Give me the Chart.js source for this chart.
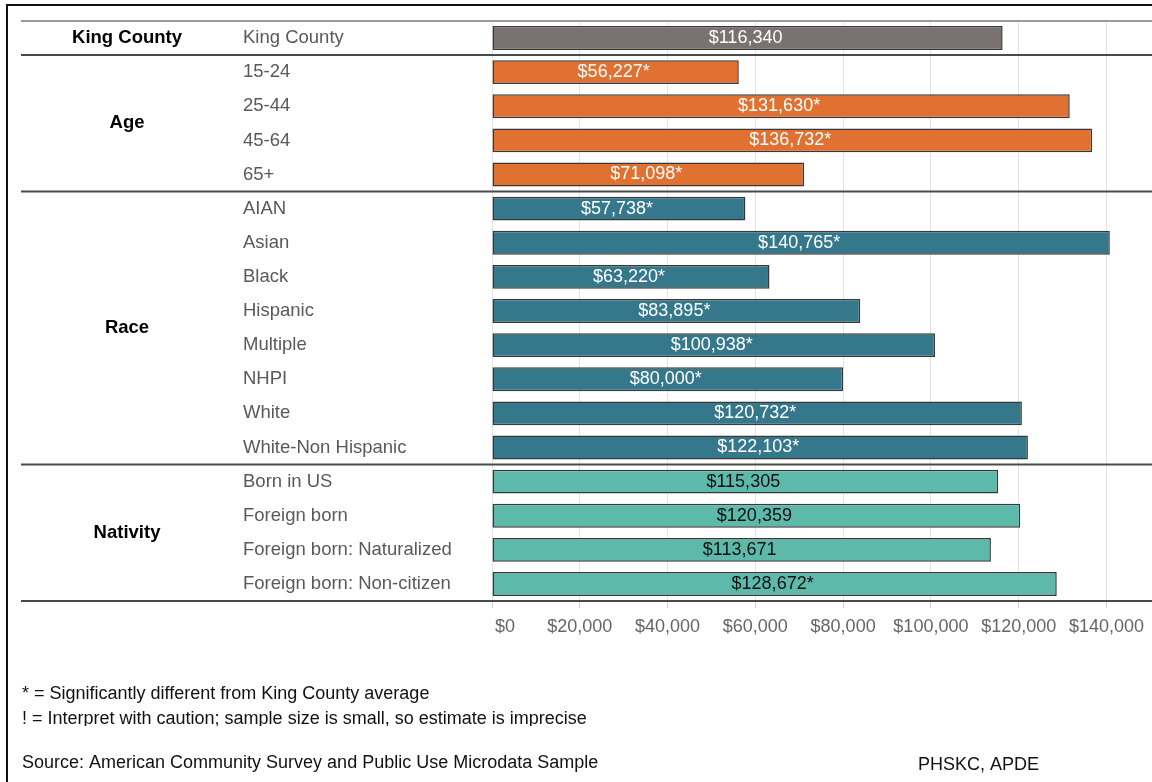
<!DOCTYPE html>
<html>
<head>
<meta charset="utf-8">
<script src="https://cdn.jsdelivr.net/npm/chart.js@4"></script>
<style>
  html, body { margin: 0; padding: 0; background: #fff; }
  #wrap { position: relative; width: 1152px; height: 782px; }
  canvas { display: block; }
</style>
</head>
<body>
<div id="wrap"><canvas id="c" width="1152" height="782"></canvas></div>
<script>
// ---- data ----
const groupNames = ['King County', 'Age', 'Race', 'Nativity'];
const groupSizes = [1, 4, 8, 4];
const categories = [
  'King County',
  '15-24', '25-44', '45-64', '65+',
  'AIAN', 'Asian', 'Black', 'Hispanic', 'Multiple', 'NHPI', 'White', 'White-Non Hispanic',
  'Born in US', 'Foreign born', 'Foreign born: Naturalized', 'Foreign born: Non-citizen'
];
const incomeValues = [
  116340,
  56227, 131630, 136732, 71098,
  57738, 140765, 63220, 83895, 100938, 80000, 120732, 122103,
  115305, 120359, 113671, 128672
];
const significant = [
  false,
  true, true, true, true,
  true, true, true, true, true, true, true, true,
  false, false, false, true
];
const xTicks = [0, 20000, 40000, 60000, 80000, 100000, 120000, 140000];
const footnotes = [
  '* = Significantly different from King County average',
  '! = Interpret with caution; sample size is small, so estimate is imprecise'
];
const sourceText = 'Source: American Community Survey and Public Use Microdata Sample';
const creditText = 'PHSKC, APDE';

// ---- styles ----
const groupColors = ['#7a7271', '#e07131', '#35788b', '#5db9a9'];
const labelColors = ['#ffffff', '#ffffff', '#ffffff', '#111111'];
const FONT = "'Liberation Sans', Arial, sans-serif";

const barGroup = [];
groupSizes.forEach((n, g) => { for (let i = 0; i < n; i++) barGroup.push(g); });
const fmt = v => '$' + v.toLocaleString('en-US');

const decor = {
  id: 'decor',
  beforeDraw(chart) {
    const ctx = chart.ctx;
    ctx.save();
    ctx.fillStyle = '#fff';
    ctx.fillRect(0, 0, chart.width, chart.height);
    ctx.restore();
  },
  afterDraw(chart) {
    const ctx = chart.ctx;
    const y = chart.scales.y;
    const x = chart.scales.x;
    const step = y.getPixelForValue(1) - y.getPixelForValue(0);
    ctx.save();
    // frame
    ctx.strokeStyle = '#111';
    ctx.lineWidth = 2;
    ctx.beginPath();
    ctx.moveTo(7, 782); ctx.lineTo(7, 5); ctx.lineTo(1152, 5);
    ctx.stroke();
    // separators and group labels
    let start = 0;
    const top = y.getPixelForValue(0) - step / 2;
    ctx.strokeStyle = '#9a9a9a';
    ctx.lineWidth = 2;
    ctx.beginPath(); ctx.moveTo(21, top); ctx.lineTo(1152, top); ctx.stroke();
    groupSizes.forEach((n, g) => {
      const end = start + n - 1;
      const yb = y.getPixelForValue(end) + step / 2;
      ctx.strokeStyle = '#4a4a4a';
      ctx.lineWidth = 2;
      ctx.beginPath(); ctx.moveTo(21, yb); ctx.lineTo(1152, yb); ctx.stroke();
      const ym = (y.getPixelForValue(start) + y.getPixelForValue(end)) / 2;
      ctx.fillStyle = '#000';
      ctx.font = 'bold 18.5px ' + FONT;
      ctx.textAlign = 'center';
      ctx.textBaseline = 'middle';
      ctx.fillText(groupNames[g], 127, ym);
      start = end + 1;
    });
    // value labels
    const meta = chart.getDatasetMeta(0);
    ctx.font = '18px ' + FONT;
    ctx.textAlign = 'center';
    ctx.textBaseline = 'middle';
    meta.data.forEach((bar, i) => {
      ctx.fillStyle = labelColors[barGroup[i]];
      const txt = fmt(incomeValues[i]) + (significant[i] ? '*' : '');
      ctx.fillText(txt, (bar.x + bar.base) / 2 - 2, bar.y);
    });
    // first x tick label, left-aligned at its tick as in the original
    ctx.fillStyle = '#666';
    ctx.textAlign = 'left';
    ctx.textBaseline = 'middle';
    ctx.fillText(fmt(xTicks[0]), x.getPixelForValue(xTicks[0]) + 3, 627.5);
    // footer
    ctx.fillStyle = '#111';
    ctx.font = '18px ' + FONT;
    ctx.textAlign = 'left';
    ctx.fillText(footnotes[0], 22, 694);
    ctx.fillText(footnotes[1], 22, 719);
    ctx.fillStyle = '#fff';
    ctx.fillRect(14, 726, 700, 14);
    ctx.fillStyle = '#111';
    ctx.fillText(sourceText, 22, 763);
    ctx.fillText(creditText, 918, 765);
    ctx.restore();
  }
};

new Chart(document.getElementById('c'), {
  type: 'bar',
  data: {
    labels: categories,
    datasets: [{
      data: incomeValues,
      backgroundColor: barGroup.map(g => groupColors[g]),
      borderColor: '#383838',
      borderWidth: 1.5,
      borderSkipped: false,
      categoryPercentage: 1,
      barPercentage: 0.7
    }]
  },
  options: {
    indexAxis: 'y',
    responsive: false,
    animation: false,
    layout: { padding: { left: 243, top: 21, right: 0, bottom: 141 } },
    plugins: { legend: { display: false }, tooltip: { enabled: false } },
    scales: {
      y: {
        grid: { display: false },
        border: { display: false },
        ticks: {
          crossAlign: 'far',
          color: '#595959',
          font: { family: FONT, size: 18.5 }
        },
        afterFit(s) { s.width = 249; }
      },
      x: {
        min: 0,
        max: 149750,
        border: { display: false },
        grid: {
          color: '#e4e4e4',
          lineWidth: 1,
          borderDash: [4, 3],
          tickLength: 7,
          tickColor: '#d0d0d0'
        },
        afterBuildTicks(s) { s.ticks = xTicks.map(v => ({ value: v })); },
        ticks: {
          padding: 8,
          color: '#666',
          font: { family: FONT, size: 18 },
          callback: v => (v === xTicks[0] ? '' : fmt(v))
        },
        afterFit(s) { s.height = 40; }
      }
    }
  },
  plugins: [decor]
});
</script>
</body>
</html>
